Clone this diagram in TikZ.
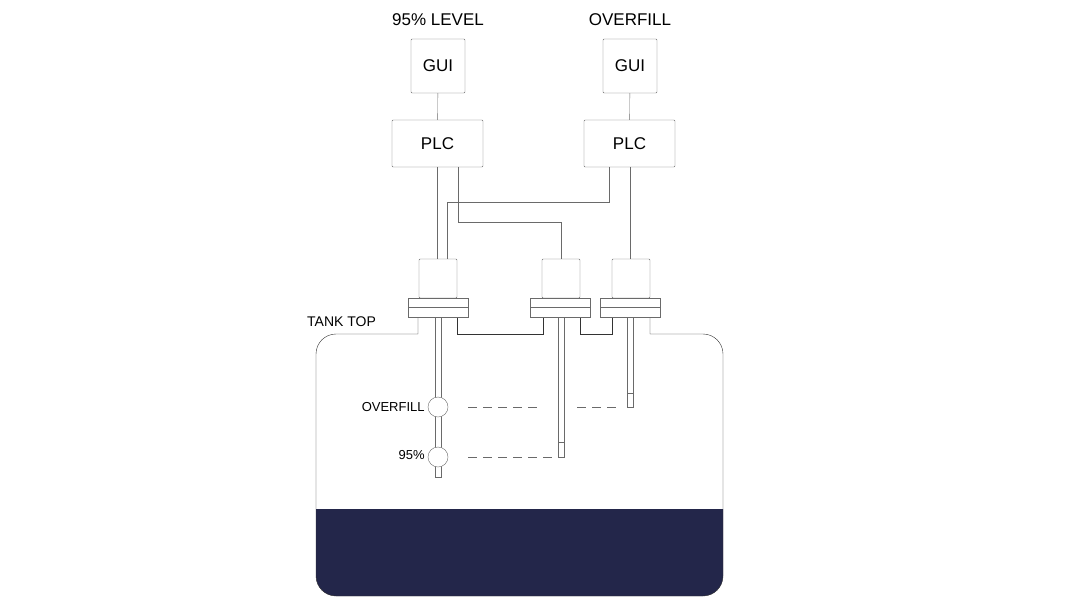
\documentclass[tikz,border=0pt]{standalone}
\usepackage{fontspec}
\setmainfont{Liberation Sans}
\definecolor{liquid}{HTML}{23264A}
\definecolor{wire}{HTML}{6A6A6A}
\begin{document}
\begin{tikzpicture}[x=1pt,y=-1pt,
      box/.style={draw=wire, thin, rounded corners=1pt, inner sep=0pt, font=\fontsize{17}{19}\selectfont},
      head/.style={draw=wire, thin, rounded corners=1pt, minimum width=38pt, minimum height=39pt, inner sep=0pt},
      flange/.style={draw=wire, thin, minimum width=60pt, minimum height=19pt, inner sep=0pt},
      ball/.style={draw=wire, thin, fill=white, circle, minimum size=20pt, inner sep=0pt},
      lbl/.style={font=\fontsize{13}{15}\selectfont, inner sep=1pt},
      wireline/.style={draw=wire, thin},
      level/.style={draw=wire, thin, dash pattern=on 9pt off 6pt}
      ]
  \useasboundingbox (0,0) rectangle (1073,603);

  % tank and liquid
  \begin{scope}
    \clip (0,509) rectangle (1073,603);
    \fill[liquid, rounded corners=20pt] (316,334) rectangle (723,596);
  \end{scope}
  \draw[wireline, black!80] (418,317) -- (418,334) [rounded corners=20pt] -- (316,334) -- (316,596) -- (723,596) -- (723,334) [sharp corners] -- (650,334) -- (650,317);
  \draw[wireline, black!80] (457,317) -- (457,334) -- (543,334) -- (543,317);
  \draw[wireline, black!80] (580,317) -- (580,334) -- (612,334) -- (612,317);
  \node[lbl, font=\fontsize{14}{16}\selectfont, anchor=west] (top) at (306,322) {TANK TOP};

  % control boxes
  \node[box, minimum width=54pt, minimum height=54pt] (gui1) at (438,66) {GUI};
  \node[box, minimum width=54pt, minimum height=54pt] (gui2) at (630,66) {GUI};
  \node[box, minimum width=91pt, minimum height=47pt] (plc1) at (437.5,143.5) {PLC};
  \node[box, minimum width=91pt, minimum height=47pt] (plc2) at (629.5,143.5) {PLC};
  \node[font=\fontsize{17}{19}\selectfont] at (438,20) {95\% LEVEL};
  \node[font=\fontsize{17}{19}\selectfont] at (630,20) {OVERFILL};

  % probe heads and flanges
  \node[head] (h1) at (438,278.5) {};
  \node[head] (h2) at (561,278.5) {};
  \node[head] (h3) at (631,278.5) {};
  \foreach \n/\x in {f1/438, f2/560.5, f3/630.5}{
    \node[flange] (\n) at (\x,307.5) {};
    \draw[wireline] (\n.west) -- (\n.east);
  }

  % probes
  \draw[wireline, fill=white] (435,317) rectangle (441,477);
  \node[ball] (b1) at (438,407) {};
  \node[ball] (b2) at (438,457) {};
  \draw[wireline, fill=white] (558,317) rectangle (564,457);
  \draw[wireline] (558,442) -- (564,442);
  \draw[wireline, fill=white] (627,317) rectangle (633,407);
  \draw[wireline] (627,393) -- (633,393);
  \node[lbl, anchor=east] at ([xshift=-2pt]b1.west) {OVERFILL};
  \node[lbl, anchor=east] at ([xshift=-2pt,yshift=2pt]b2.west) {95\%};

  % level marks
  \draw[level] (468,407) -- (542,407);
  \draw[level] (577,407) -- (621,407);
  \draw[level] (468,457) -- (552,457);

  % wiring
  \draw[wireline] (gui1) -- (plc1);
  \draw[wireline] (gui2) -- (plc2);
  \draw[wireline] (plc1.south -| 437,0) -- (h1.north -| 437,0);
  \draw[wireline] (plc2.south -| 630,0) -- (h3.north -| 630,0);
  \draw[wireline] (plc1.south -| 458,0) |- (561,222) -- (h2.north);
  \draw[wireline] (plc2.south -| 609,0) |- (447,202) -- (h1.north -| 447,0);
\end{tikzpicture}
\end{document}
